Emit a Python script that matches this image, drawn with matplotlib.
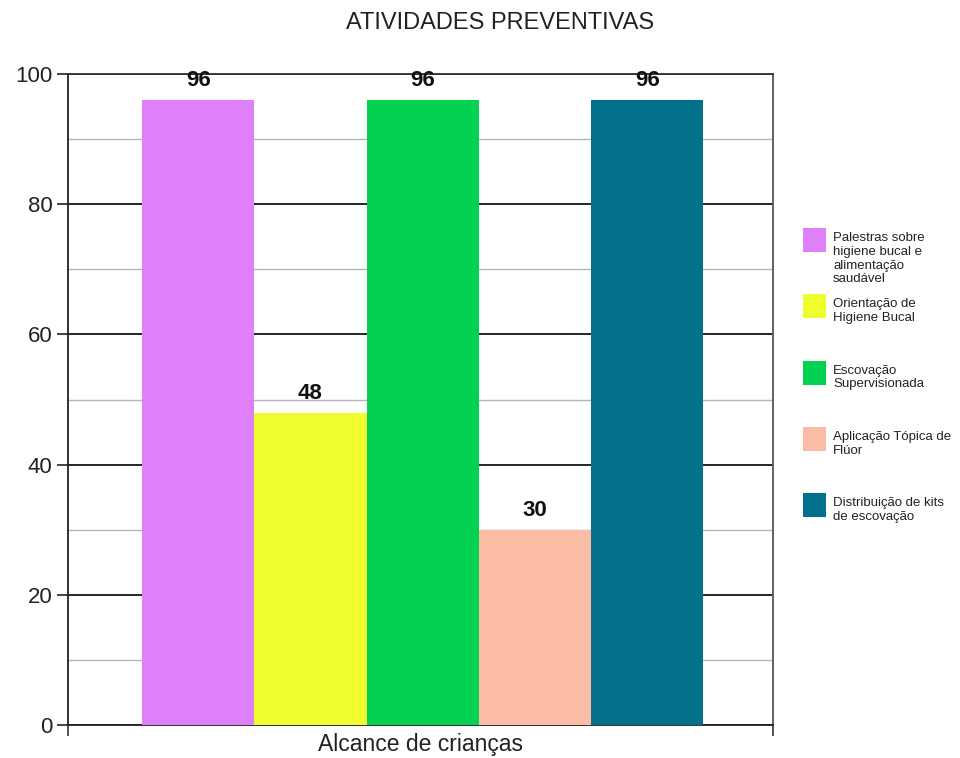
import matplotlib.pyplot as plt
from matplotlib.patches import Rectangle
from matplotlib.ticker import MultipleLocator

plt.rcParams['font.family'] = ['Liberation Sans', 'DejaVu Sans']

# data
categoria = "Alcance de crianças"
atividades = [
    "Palestras sobre\nhigiene bucal e\nalimentação\nsaudável",
    "Orientação de\nHigiene Bucal",
    "Escovação\nSupervisionada",
    "Aplicação Tópica de\nFlúor",
    "Distribuição de kits\nde escovação",
]
valores = [96, 48, 96, 30, 96]
cores = ["#e07ffa", "#effc2e", "#03d152", "#fbbca6", "#03718c"]

W, H = 960, 758
fig = plt.figure(figsize=(W / 100, H / 100), dpi=100)
ax = fig.add_axes([68 / W, 1 - 725 / H, (773 - 68) / W, (725 - 74) / H])

xs = list(range(len(valores)))
bars = ax.bar(xs, valores, width=1.0, align='edge', color=cores, zorder=3)
for b, v in zip(bars, valores):
    ax.annotate(str(v), (b.get_x() + b.get_width() / 2, v), xytext=(0, 14),
                textcoords='offset points', ha='center', va='center',
                fontsize=16, fontweight='bold', color='#111111')

ax.set_xlim(-0.66, 5.62)
ax.set_ylim(0, 100)
ax.yaxis.set_major_locator(MultipleLocator(20))
ax.yaxis.set_minor_locator(MultipleLocator(10))
ax.grid(axis='y', which='major', color='#141414', linewidth=1.3, zorder=1)
ax.grid(axis='y', which='minor', color='#b5b5b5', linewidth=1.0, zorder=1)
ax.set_axisbelow(True)
ax.tick_params(axis='y', which='major', length=8, width=1.2, labelsize=16,
               color='#222222', labelcolor='#222222', pad=3)
ax.tick_params(axis='y', which='minor', length=0)
ax.set_xticks([-0.66, 5.62])
ax.set_xticklabels(["", ""])
ax.tick_params(axis='x', length=8, width=1.2, color='#333333')
ax.set_xlabel(categoria, fontsize=16.5, color='#222222', va='center')
ax.xaxis.set_label_coords(0.5, -20 / 651)

for s in ['left', 'bottom']:
    ax.spines[s].set_color('#222222')
    ax.spines[s].set_linewidth(1.3)
ax.spines['right'].set_color('#555555')
ax.spines['right'].set_linewidth(1.3)
ax.spines['top'].set_color('#333333')
ax.spines['top'].set_linewidth(1.3)

fig.text(500 / W, 1 - 23 / H, "ATIVIDADES PREVENTIVAS", ha='center', va='center',
         fontsize=17, color='#222222')

# legend drawn by hand so the entries keep an even step
top0, step = 228, 66.3
for i, (lab, c) in enumerate(zip(atividades, cores)):
    t = top0 + i * step
    fig.patches.append(Rectangle((803 / W, 1 - (t + 24) / H), 23 / W, 24 / H,
                                 transform=fig.transFigure, facecolor=c,
                                 edgecolor='none'))
    fig.text(833 / W, 1 - (t + 4) / H, lab, ha='left', va='top',
             fontsize=9.5, color='#222222', linespacing=1.2)

fig.savefig("out.png", dpi=100)
